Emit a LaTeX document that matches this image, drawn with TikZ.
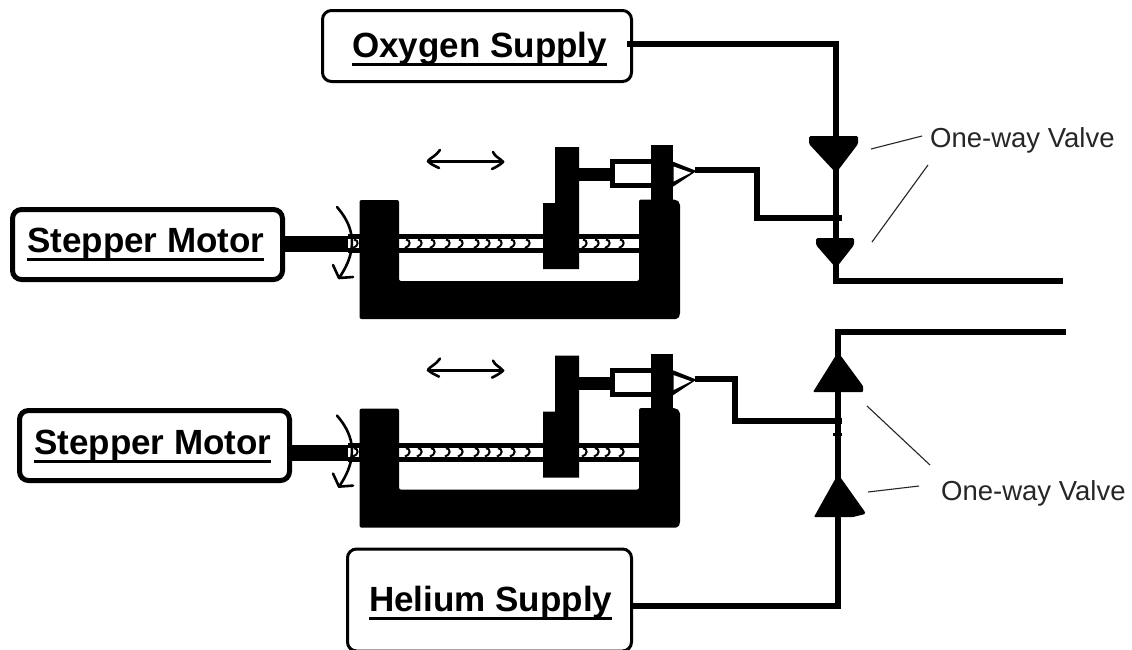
\documentclass[tikz,border=0pt]{standalone}
\usepackage{fontspec}
\setmainfont{Liberation Sans}
\newcommand\ulbl[1]{\setbox0\hbox{\bfseries\fontsize{35}{40}\selectfont #1}\rlap{\rule[-8.6pt]{\wd0}{2.6pt}}\box0}
\tikzset{
 wire/.style={line width=6pt,line cap=butt,line join=miter},
 leader/.style={line width=1.1pt,black!85},
 sbox/.style={draw=black,rounded corners=9pt,fill=white,inner sep=0pt},
 blabel/.style={anchor=base west,inner sep=0pt},
 vlabel/.style={anchor=base west,inner sep=0pt,text=black!85,font=\fontsize{27.5}{30}\selectfont},
 thin arrow/.style={line width=2.6pt,line cap=round,line join=round},
 assembly/.pic={
  % shaft and screw
  \fill (285,236) rectangle (350,252);
  \fill (348,234) rectangle (640,253);
  \fill[white] (348,239) rectangle (359,248);
  \fill[white] (399,239) rectangle (543,248);
  \fill[white] (579,239) rectangle (640,248);
  \foreach \x in {356,408,420,433,448,461,477,488,500,513,528,585,597,608,622}{
    \draw[line width=2pt] (\x-2,239.5) .. controls (\x+3,240) and (\x+3,246) .. (\x-3,248);
  }
  % frame
  \fill[rounded corners=2pt] (359.5,200) -- (399,200) -- (399,281) -- (639,281) -- (639,199.5) -- (676,199.5) -- (680,203) -- (680,315) -- (678,319) -- (359.5,319) -- cycle;
  % carriage
  \fill (543,203) -- (555,203) -- (555,147) -- (579,147) -- (579,269) -- (543,269) -- cycle;
  % rod, syringe, post, nozzle
  \fill (579,168) rectangle (612,181);
  \draw[line width=5pt] (651,161.5) -- (612.5,161.5) -- (612.5,185.5) -- (651,185.5);
  \fill[white] (615,164) rectangle (651,183);
  \fill (651,145) rectangle (673,200);
  \fill (673,161.7) -- (696.5,171) -- (673,186.7) -- cycle;
  \fill[white] (673.5,166.5) -- (691,172.7) -- (673.5,181.5) -- cycle;
  \coordinate (-tip) at (695,170);
  % travel arrow
  \draw[thin arrow] (428,161.7) -- (503,161.7);
  \draw[thin arrow] (440,150) .. controls (436,156) and (430,158) .. (428,161) .. controls (430,164) and (435,166) .. (439,168);
  \draw[thin arrow] (493,152) .. controls (495,157) and (500,158) .. (503,162) .. controls (500,165) and (496,167) .. (492,169);
  % rotation arrow
  \draw[thin arrow] (337,207) .. controls (350,222) and (362,245) .. (339,278);
  \draw[thin arrow] (333,265) -- (339,278) -- (353,277);
 }
}
\begin{document}
\begin{tikzpicture}[x=1pt,y=-1pt]
\useasboundingbox[fill=white] (0,0) rectangle (1132,649);
\clip (0,0) rectangle (1132,649);

% assemblies
\pic (aone) at (0,0) {assembly};
\pic (atwo) at (0,208.6) {assembly};

% supply and motor boxes
\node[sbox,line width=3pt,minimum width=309pt,minimum height=71pt] (oxy) at (477,46) {};
\node[sbox,line width=5pt,minimum width=270pt,minimum height=70pt] (smone) at (147.5,244.5) {};
\node[sbox,line width=5pt,minimum width=270pt,minimum height=70pt] (smtwo) at (154.5,445.5) {};
\node[sbox,line width=3pt,minimum width=284pt,minimum height=102pt] (he) at (489.5,600) {};
\node[blabel] (oxyl) at (352,57) {\ulbl{Oxygen Supply}};
\node[blabel] (smonel) at (27,252) {\ulbl{Stepper Motor}};
\node[blabel] (smtwol) at (34,454) {\ulbl{Stepper Motor}};
\node[blabel] (hel) at (369,611) {\ulbl{Helium Supply}};

% junction coordinates
\coordinate (oxyout) at (627,44);
\coordinate (oxycorner) at (836,44);
\coordinate (outone) at (836,281);
\coordinate (endone) at (1063,281);
\coordinate (joinone) at (842,218);
\coordinate (heout) at (630,606);
\coordinate (hecorner) at (838,606);
\coordinate (outtwo) at (838,332);
\coordinate (endtwo) at (1066,332);
\coordinate (jointwo) at (842,421);

% main lines
\draw[wire] (oxyout) -- (oxycorner) -- (outone) -- (endone);
\draw[wire] (heout) -- (hecorner) -- (outtwo) -- (endtwo);
\draw[wire] (aone-tip) -- (756.5,170) -- (756.5,218) -- (joinone);
\draw[wire] (atwo-tip) -- (735,378.6) -- (735,421) -- (jointwo);
\fill (833,432.5) rectangle (842,435.5);

% valves
\fill[rounded corners=1.5pt] (809,136) -- (858,136) -- (858,144) -- (836,173) -- (809,144) -- cycle;
\fill[rounded corners=1.5pt] (816,238) -- (854,238) -- (854,245) -- (836,268) -- (816,245) -- cycle;
\fill[rounded corners=1pt] (838,352) -- (863,386) -- (863,392) -- (813,392) -- cycle;
\fill[rounded corners=1pt] (838,474) -- (865,512) -- (865,514) -- (853,517) -- (814,517) -- cycle;

% labels and leaders
\node[vlabel] (vone) at (930,147) {One-way Valve};
\node[vlabel] (vtwo) at (941,500) {One-way Valve};
\coordinate (vonea) at (922,136);
\coordinate (voneb) at (928,165);
\coordinate (vtwoa) at (930,465);
\coordinate (vtwob) at (919,486);
\coordinate (tone) at (871,149);
\coordinate (ttwo) at (872,242);
\coordinate (tthree) at (867,406);
\coordinate (tfour) at (868,492);
\draw[leader] (vonea) -- (tone);
\draw[leader] (voneb) -- (ttwo);
\draw[leader] (vtwoa) -- (tthree);
\draw[leader] (vtwob) -- (tfour);
\end{tikzpicture}
\end{document}
